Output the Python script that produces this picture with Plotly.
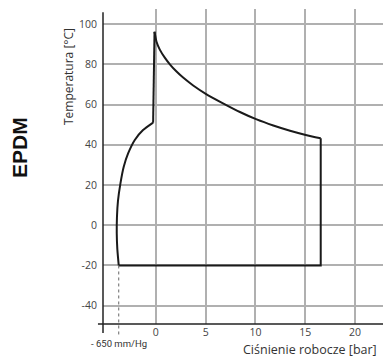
import plotly.graph_objects as go

# ---- data ----
# low-temperature / vacuum boundary (curved, left)
left_pressure = [-3.72, -3.86, -3.92, -3.90, -3.80, -3.55, -3.22, -2.78, -2.11, -1.28, -0.27]
left_temp = [-20, -12, -4, 4, 12, 20.8, 29.1, 35.7, 42.4, 47.3, 51]
# upper boundary (curved, decreasing with pressure)
top_pressure = [-0.13, 0.07, 0.4, 0.9, 1.41, 2.08, 2.74, 3.75, 5.09, 6.6, 8.44, 10.12,
                11.79, 13.47, 15.05, 16.55]
top_temp = [96.2, 91.2, 87.3, 83.3, 80.0, 76.4, 73.4, 69.5, 65.1, 61.0, 56.3, 52.6,
            49.6, 47.0, 44.9, 43.2]
# straight edges
jump_pressure = [-0.27, -0.13]
jump_temp = [51, 96.2]
edge_pressure = [16.55, 16.55, -3.72]
edge_temp = [43.2, -20, -20]

vacuum_pressure = -3.72
vacuum_temp = -20
x_ticks = [0, 5, 10, 15, 20]
x_ticklabels = ["0", "5", "10", "15", "20"]
y_ticks = [-40, -20, 0, 20, 40, 60, 80, 100]
y_ticklabels = ["-40", "-20", "0", "20", "40", "60", "80", "100"]
x_range = [-5.3, 22.8]
y_range = [-49.1, 107.5]

FONT = "Open Sans, DejaVu Sans, sans-serif"
LINE = "#1a1a1a"

fig = go.Figure()
for xs, ys, shp in [(left_pressure, left_temp, "spline"),
                    (jump_pressure, jump_temp, "linear"),
                    (top_pressure, top_temp, "spline"),
                    (edge_pressure, edge_temp, "linear")]:
    fig.add_trace(go.Scatter(
        x=xs, y=ys, mode="lines",
        line=dict(color=LINE, width=2, shape=shp, smoothing=0.6 if shp == "spline" else None),
        hoverinfo="skip", showlegend=False))

vac_paper = (vacuum_temp - y_range[0]) / (y_range[1] - y_range[0])

shapes = [
    # dotted vacuum line
    dict(type="line", xref="x", yref="paper", x0=vacuum_pressure, x1=vacuum_pressure,
         y0=vac_paper, y1=-0.041, line=dict(color="#666666", width=1, dash="dot")),
    # x axis line
    dict(type="line", xref="paper", yref="paper", x0=-0.018, x1=1.0, y0=0, y1=0,
         line=dict(color="#222222", width=1.5)),
    # y axis line
    dict(type="line", xref="paper", yref="paper", x0=0, x1=0, y0=-0.0286, y1=0.99,
         line=dict(color="#222222", width=1.5)),
]

annotations = [
    dict(text="Temperatura [°C]", xref="paper", yref="paper", x=-0.125, y=0.784,
         textangle=-90, showarrow=False, font=dict(family=FONT, size=12, color="#333333"),
         xanchor="center", yanchor="middle"),
    dict(text="Ciśnienie robocze [bar]", xref="paper", yref="paper", x=0.985, y=-0.08,
         showarrow=False, font=dict(family=FONT, size=12.5, color="#333333"),
         xanchor="right", yanchor="middle"),
    dict(text="<b>EPDM</b>", xref="paper", yref="paper", x=-0.296, y=0.559,
         textangle=-90, showarrow=False,
         font=dict(family="Liberation Sans, Arial, sans-serif", size=21, color="#111111"),
         xanchor="center", yanchor="middle"),
    dict(text="- 650 mm/Hg", xref="x", yref="paper", x=vacuum_pressure, y=-0.062,
         showarrow=False,
         font=dict(family="Liberation Sans Narrow, Roboto, sans-serif", size=9.5, color="#333333"),
         xanchor="center", yanchor="middle"),
]

fig.update_layout(
    width=383, height=358,
    margin=dict(l=103, r=0, t=9, b=34),
    paper_bgcolor="white", plot_bgcolor="white",
    shapes=shapes, annotations=annotations,
    xaxis=dict(range=x_range, tickvals=x_ticks, ticktext=x_ticklabels,
               showgrid=True, gridcolor="#b0b0b0", gridwidth=1.5,
               zeroline=False, showline=False, ticks="",
               tickfont=dict(family=FONT, size=10.5, color="#444444")),
    yaxis=dict(range=y_range, tickvals=y_ticks, ticktext=y_ticklabels,
               showgrid=True, gridcolor="#b0b0b0", gridwidth=1.5,
               zeroline=False, showline=False, ticks="outside", ticklen=3,
               tickcolor="rgba(0,0,0,0)",
               tickfont=dict(family=FONT, size=10.5, color="#444444")),
)

fig.write_html("out.html", config={"displayModeBar": False},
               post_script="document.body.style.margin='0';document.body.style.overflow='hidden';")
